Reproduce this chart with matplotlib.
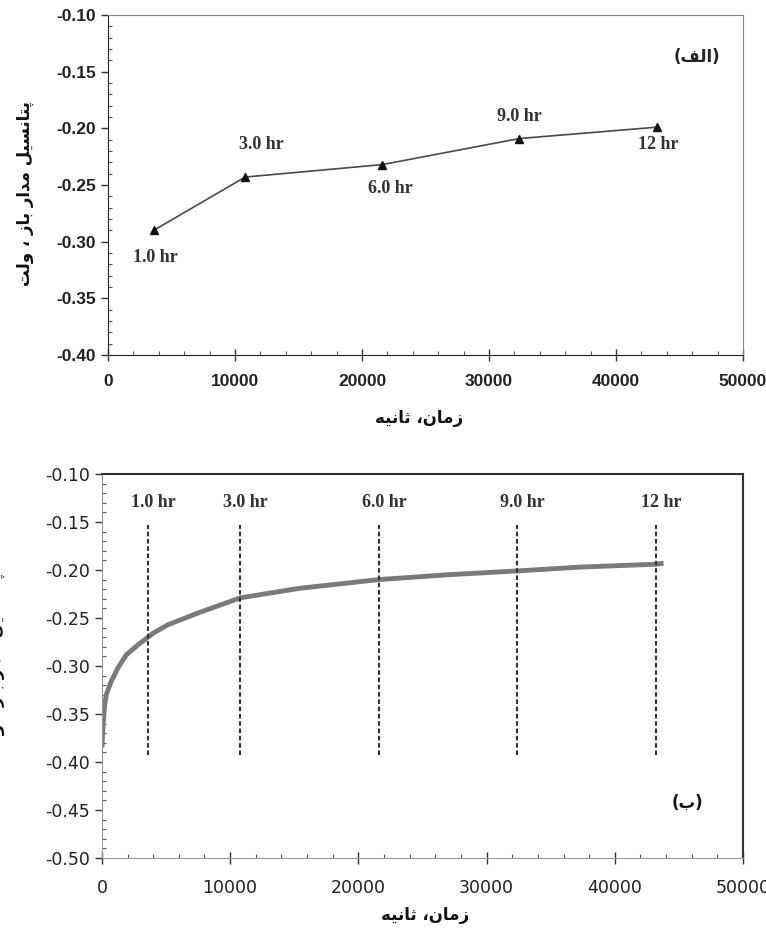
import matplotlib
matplotlib.use("Agg")
import matplotlib.pyplot as plt
from matplotlib.ticker import MultipleLocator, FormatStrFormatter

# --- data ---
hour_labels = ['1.0 hr', '3.0 hr', '6.0 hr', '9.0 hr', '12 hr']
hour_times = [3600, 10800, 21600, 32400, 43200]

# panel (a): OCP sampled at each immersion time
ocp_a = [-0.290, -0.243, -0.232, -0.209, -0.199]

# panel (b): continuous OCP record
time_b = [10, 40, 100, 210, 340, 730, 1250, 1900, 2810, 3980, 5160, 7660,
          10800, 15470, 21600, 26950, 32400, 37300, 43200, 43800]
ocp_b = [-0.385, -0.375, -0.360, -0.341, -0.330, -0.316, -0.302, -0.2885,
         -0.278, -0.266, -0.257, -0.244, -0.229, -0.219, -0.210, -0.205,
         -0.201, -0.197, -0.194, -0.193]

ylabel_text = 'پتانسیل مدار باز ، ولت'
xlabel_text = 'زمان، ثانیه'
tag_a = '(الف)'
tag_b = '(ب)'

# Arabic-script presentation forms: (isolated, final, initial, medial)
FORMS = {
    'ا': ('\uFE8D', '\uFE8E'),
    'ب': ('\uFE8F', '\uFE90', '\uFE91', '\uFE92'),
    'پ': ('\uFB56', '\uFB57', '\uFB58', '\uFB59'),
    'ت': ('\uFE95', '\uFE96', '\uFE97', '\uFE98'),
    'ث': ('\uFE99', '\uFE9A', '\uFE9B', '\uFE9C'),
    'د': ('\uFEA9', '\uFEAA'),
    'ر': ('\uFEAD', '\uFEAE'),
    'ز': ('\uFEAF', '\uFEB0'),
    'س': ('\uFEB1', '\uFEB2', '\uFEB3', '\uFEB4'),
    'ف': ('\uFED1', '\uFED2', '\uFED3', '\uFED4'),
    'ل': ('\uFEDD', '\uFEDE', '\uFEDF', '\uFEE0'),
    'م': ('\uFEE1', '\uFEE2', '\uFEE3', '\uFEE4'),
    'ن': ('\uFEE5', '\uFEE6', '\uFEE7', '\uFEE8'),
    'ه': ('\uFEE9', '\uFEEA', '\uFEEB', '\uFEEC'),
    'و': ('\uFEED', '\uFEEE'),
    'ی': ('\uFBFC', '\uFBFD', '\uFBFE', '\uFBFF'),
}


def shape_fa(s):
    """Join letters and flip to visual order (no bidi lib available)."""
    out = []
    for i, c in enumerate(s):
        if c not in FORMS:
            out.append(c)
            continue
        f = FORMS[c]
        prev = s[i - 1] if i > 0 else ''
        nxt = s[i + 1] if i + 1 < len(s) else ''
        join_prev = prev in FORMS and len(FORMS[prev]) == 4
        join_next = len(f) == 4 and nxt in FORMS
        if join_prev and join_next:
            out.append(f[3])
        elif join_prev:
            out.append(f[1])
        elif join_next:
            out.append(f[2])
        else:
            out.append(f[0])
    vis = ''.join(reversed(out))
    return vis.translate(str.maketrans('()', ')('))


FA_FONT = ['DejaVu Sans']
SERIF = 'Liberation Serif'

fig = plt.figure(figsize=(7.66, 9.47), dpi=100)
ax1 = fig.add_axes([0.141, 0.6251, 0.829, 0.3591])
ax2 = fig.add_axes([0.133, 0.0940, 0.837, 0.4055])


def style_axes(ax, ymin, ymax, tick_font, tick_weight, tick_size, xpad):
    ax.set_xlim(0, 50000)
    ax.set_ylim(ymin, ymax)
    ax.xaxis.set_major_locator(MultipleLocator(10000))
    ax.xaxis.set_minor_locator(MultipleLocator(2000))
    ax.yaxis.set_major_locator(MultipleLocator(0.05))
    ax.yaxis.set_minor_locator(MultipleLocator(0.01))
    ax.yaxis.set_major_formatter(FormatStrFormatter('%.2f'))
    ax.tick_params(axis='y', which='major', direction='out', length=5, width=1, color='#333333')
    ax.tick_params(axis='y', which='minor', direction='in', length=3, width=0.8, color='#555555')
    ax.tick_params(axis='x', which='major', direction='inout', length=8, width=1, color='#333333')
    ax.tick_params(axis='x', which='minor', direction='in', length=3, width=0.8, color='#555555')
    ax.tick_params(axis='x', which='major', pad=xpad)
    for lab in ax.get_xticklabels() + ax.get_yticklabels():
        lab.set_fontfamily(tick_font)
        lab.set_fontweight(tick_weight)
        lab.set_fontsize(tick_size)
        lab.set_color('#222222')


# ---------- panel (a) ----------
ax1.plot(hour_times, ocp_a, color='#4a4a4a', lw=1.2, marker='^', ms=6,
         mfc='#111111', mec='#111111')
style_axes(ax1, -0.40, -0.10, 'Liberation Sans', 'bold', 12.5, 10)
ax1.spines['left'].set_color('#222222')
ax1.spines['bottom'].set_color('#222222')
ax1.spines['top'].set_color('#888888')
ax1.spines['right'].set_color('#888888')

label_pos_a = [(3700, -0.3136), (12100, -0.2147), (22200, -0.2527),
               (32400, -0.190), (43300, -0.2147)]
for lab, (lx, ly) in zip(hour_labels, label_pos_a):
    ax1.text(lx, ly, lab, ha='center', va='center', fontfamily=SERIF,
             fontweight='bold', fontsize=13, color='#333333')
ax1.text(46400, -0.137, shape_fa(tag_a), ha='center', va='center',
         family=FA_FONT, fontweight='bold', fontsize=12, color='#222222')

fig.text(0.033, 0.796, shape_fa(ylabel_text), rotation=90, ha='center',
         va='center', family=FA_FONT, fontweight='bold', fontsize=12,
         color='#111111')
fig.text(0.547, 0.559, shape_fa(xlabel_text), ha='center', va='center',
         family=FA_FONT, fontweight='bold', fontsize=12, color='#111111')

# ---------- panel (b) ----------
ax2.plot(time_b, ocp_b, color='#7a7a7a', lw=3.5, solid_capstyle='butt')
ax2.vlines(hour_times, -0.393, -0.153, colors='#333333', linestyles=(0, (2.2, 1.3)), lw=1.5)
style_axes(ax2, -0.50, -0.10, 'DejaVu Sans', 'normal', 12.5, 11)
ax2.spines['left'].set_color('#999999')
ax2.spines['bottom'].set_color('#999999')
ax2.spines['top'].set_color('#333333')
ax2.spines['right'].set_color('#333333')
ax2.spines['top'].set_linewidth(1.5)
ax2.spines['right'].set_linewidth(1.5)

for lab, hx in zip(hour_labels, hour_times):
    ax2.text(hx + 400, -0.130, lab, ha='center', va='center', fontfamily=SERIF,
             fontweight='bold', fontsize=13, color='#333333')
ax2.text(45700, -0.443, shape_fa(tag_b), ha='center', va='center',
         family=FA_FONT, fontweight='bold', fontsize=12, color='#111111')

# y label of panel (b) is almost entirely cropped off the left edge
fig.text(-0.005, 0.297, shape_fa(ylabel_text), rotation=90, ha='center',
         va='center', family=FA_FONT, fontweight='bold', fontsize=12,
         color='#111111')
fig.text(0.555, 0.034, shape_fa(xlabel_text), ha='center', va='center',
         family=FA_FONT, fontweight='bold', fontsize=12, color='#111111')

fig.savefig('out.png', dpi=100)
